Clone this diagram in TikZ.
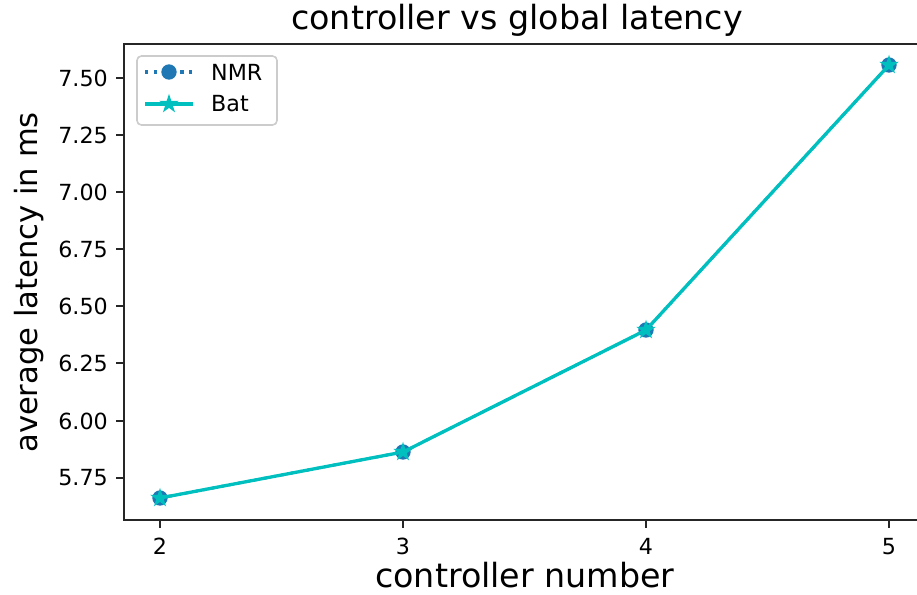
\documentclass[tikz,border=0pt]{standalone}
\usepackage{fontspec}
\setmainfont{DejaVu Sans}
\definecolor{mplblue}{HTML}{1F77B4}
\definecolor{mplcyan}{HTML}{00BFBF}
\definecolor{legedge}{HTML}{CCCCCC}
\tikzset{
  x=1pt, y=-1pt,
  spine/.style={line width=1.8pt, line cap=rect, black!85},
  tickmark/.style={line width=1.8pt, black!85},
  ticklabel/.style={inner sep=0pt, font=\fontsize{22.2}{26}\selectfont},
  biglabel/.style={inner sep=0pt, font=\fontsize{33.3}{38}\selectfont},
  nmrline/.style={mplblue, line width=2.8pt, dash pattern=on 3.3pt off 5.5pt},
  batline/.style={mplcyan, line width=3.3pt, line join=round},
  dotmark/.style={circle, fill=mplblue, draw=mplblue, line width=2pt, minimum size=13.3pt, inner sep=0pt},
  % five-pointed star, tip upwards (the y axis of this picture points down)
  starmark/.pic={\fill[mplcyan, draw=mplcyan, line width=2.2pt, line join=miter]
     (270:6.7) -- (306:2.56) -- (342:6.7) -- (18:2.56) -- (54:6.7) -- (90:2.56)
     -- (126:6.7) -- (162:2.56) -- (198:6.7) -- (234:2.56) -- cycle;},
}
\begin{document}
\begin{tikzpicture}
\useasboundingbox (0,0) rectangle (917,594);
\clip (0,0) rectangle (917,594);

% title and axis labels
\node[biglabel, anchor=base west] (title) at (291,30) {controller vs global latency};
\node[biglabel, anchor=base west] (xlab) at (375,587) {controller number};
\node[inner sep=0pt, font=\fontsize{30.6}{36}\selectfont, anchor=base, rotate=90] (ylab) at (37,282.5) {average latency in ms};

% spines (right spine lies beyond the visible area)
\draw[spine] (124,520) -- (124,44) -- (930,44);
\draw[spine] (124,520) -- (930,520);

% y ticks
\foreach \v/\py in {5.75/478, 6.00/421, 6.25/363, 6.50/306, 6.75/249, 7.00/192, 7.25/135, 7.50/78} {
  \draw[tickmark] (124,\py) -- (116.2,\py);
  \node[ticklabel, anchor=east] at (108,\py) {\v};
}
% x ticks
\foreach \n/\px in {2/160, 3/403, 4/646, 5/889} {
  \draw[tickmark] (\px,520) -- (\px,527.8);
  \node[ticklabel, anchor=north] at (\px,538) {\n};
}

% data points
\coordinate (p2) at (160,498);
\coordinate (p3) at (403,452);
\coordinate (p4) at (646,330);
\coordinate (p5) at (889,65);

% NMR series
\draw[nmrline] (p2) -- (p3) -- (p4) -- (p5);
\foreach \p in {p2,p3,p4,p5} \node[dotmark] at (\p) {};
% Bat series
\draw[batline] (p2) -- (p3) -- (p4) -- (p5);
\foreach \p in {p2,p3,p4,p5} \pic at (\p) {starmark};

% legend
\draw[legedge, line width=1.6pt, fill=white, rounded corners=4.4pt] (137,56) rectangle (277,125);
\coordinate (l1a) at (145,72); \coordinate (l1b) at (193,72);
\coordinate (l2a) at (145,104); \coordinate (l2b) at (193,104);
\draw[nmrline, line width=3.3pt] (l1a) -- (l1b);
\node[dotmark] (l1m) at (169,72) {};
\draw[batline] (l2a) -- (l2b);
\pic at (169,104) {starmark};
\node[ticklabel, anchor=west] (l1t) at (211,72) {NMR};
\node[ticklabel, anchor=west] (l2t) at (211,104) {Bat};
\end{tikzpicture}
\end{document}
